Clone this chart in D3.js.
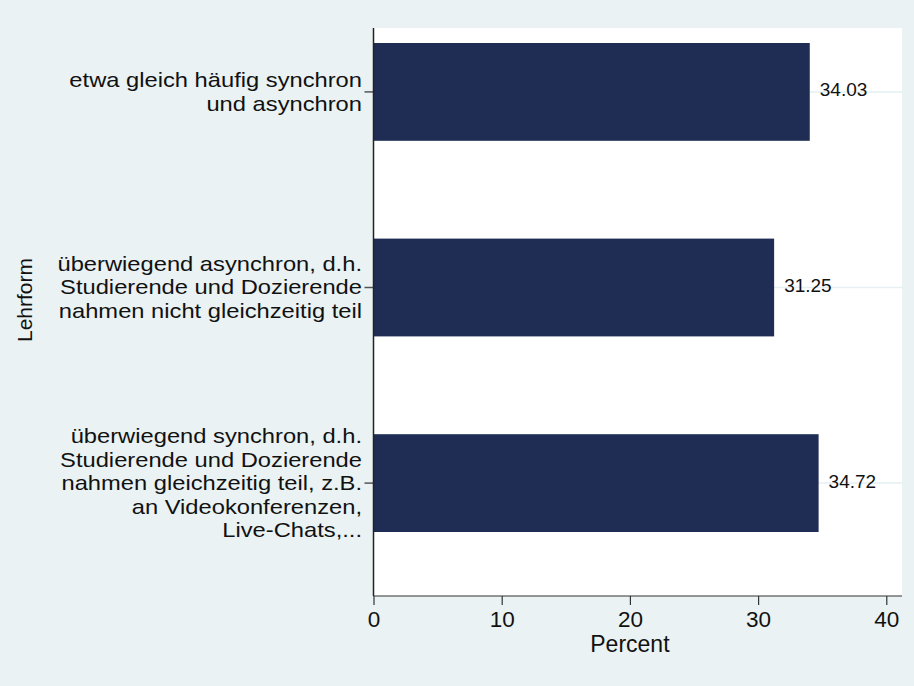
<!DOCTYPE html>
<html>
<head>
<meta charset="utf-8">
<script src="https://cdn.jsdelivr.net/npm/d3@7"></script>
<style>
  body { margin: 0; background: #eaf2f3; }
  svg text { font-family: "Liberation Sans", Arial, sans-serif; fill: #111; }
</style>
</head>
<body>
<div id="chart"></div>
<script>
// data
let categories = [
    ["etwa gleich häufig synchron", "und asynchron"],
    ["überwiegend asynchron, d.h.", "Studierende und Dozierende", "nahmen nicht gleichzeitig teil"],
    ["überwiegend synchron, d.h.", "Studierende und Dozierende", "nahmen gleichzeitig teil, z.B.", "an Videokonferenzen,", "Live-Chats,..."]
];
let percents = [34.03, 31.25, 34.72];
let xTicks = [0, 10, 20, 30, 40];
let xTitle = "Percent";
let yTitle = "Lehrform";

let width = 914, height = 686;
let plot = { left: 373.5, right: 902, top: 28, bottom: 596 };

let svg = d3.select("#chart")
    .append("svg")
    .attr("width", width)
    .attr("height", height);

svg.append("rect")
    .attr("width", width).attr("height", height)
    .attr("fill", "#eaf2f3");

// plot region
svg.append("rect")
    .attr("x", plot.left).attr("y", plot.top)
    .attr("width", plot.right - plot.left)
    .attr("height", plot.bottom - plot.top)
    .attr("fill", "#fff");

let x = d3.scaleLinear().domain([0, 40]).range([plot.left, plot.left + 512.8]);

let keys = categories.map((c, i) => i);
let y = d3.scaleBand().domain(keys).range([43, 532]).paddingInner(0.5).paddingOuter(0);

// grid lines at category centres
svg.append("g")
    .selectAll("line")
    .data(keys)
    .enter()
    .append("line")
    .attr("x1", plot.left).attr("x2", plot.right)
    .attr("y1", d => y(d) + y.bandwidth() / 2)
    .attr("y2", d => y(d) + y.bandwidth() / 2)
    .attr("stroke", "#e6eff1")
    .attr("stroke-width", 1.5);

// bars
svg.append("g")
    .selectAll("rect")
    .data(percents)
    .enter()
    .append("rect")
    .attr("x", x(0))
    .attr("y", (d, i) => y(i))
    .attr("width", d => x(d) - x(0))
    .attr("height", y.bandwidth())
    .attr("fill", "#1f2d55");

// bar labels
svg.append("g")
    .selectAll("text")
    .data(percents)
    .enter()
    .append("text")
    .attr("x", d => x(d) + 10)
    .attr("y", (d, i) => y(i) + y.bandwidth() / 2 - 2)
    .attr("dominant-baseline", "central")
    .attr("font-size", 19)
    .text(d => d.toFixed(2));

// x axis
let xAxis = svg.append("g")
    .attr("transform", `translate(0,${plot.bottom})`)
    .call(d3.axisBottom(x).tickValues(xTicks).tickSize(9).tickPadding(6).tickFormat(d3.format("d")));
xAxis.select(".domain").remove();
xAxis.append("line")
    .attr("x1", plot.left).attr("x2", plot.right)
    .attr("stroke", "#333").attr("stroke-width", 1.2);
xAxis.selectAll(".tick line").attr("stroke", "#333").attr("stroke-width", 1.2);
xAxis.selectAll(".tick text")
    .attr("font-size", 22.5)
    .attr("font-family", "Liberation Sans, Arial, sans-serif")
    .attr("fill", "#111");

// y axis
let yAxis = svg.append("g")
    .attr("transform", `translate(${plot.left},0)`)
    .call(d3.axisLeft(y).tickSize(9).tickFormat(""));
yAxis.select(".domain").remove();
yAxis.append("line")
    .attr("y1", plot.top).attr("y2", plot.bottom)
    .attr("stroke", "#222").attr("stroke-width", 1.5);
yAxis.selectAll(".tick line").attr("stroke", "#555").attr("stroke-width", 1.5);

// category labels (stretched a little sideways, like the original)
let lineH = 23.5;
svg.append("g")
    .selectAll("text")
    .data(categories)
    .enter()
    .append("text")
    .attr("text-anchor", "end")
    .attr("font-size", 21)
    .attr("transform", "translate(362,0) scale(1.13,1)")
    .each(function (lines, i) {
        let cy = y(i) + y.bandwidth() / 2;
        let first = cy - (lines.length - 1) * lineH / 2;
        d3.select(this).selectAll("tspan")
            .data(lines)
            .enter()
            .append("tspan")
            .attr("x", 0)
            .attr("y", (l, j) => first + j * lineH)
            .attr("dy", "0.33em")
            .text(l => l);
    });

// axis titles
svg.append("text")
    .attr("x", x(20))
    .attr("y", 652)
    .attr("text-anchor", "middle")
    .attr("font-size", 23)
    .text(xTitle);

svg.append("text")
    .attr("transform", "translate(32,300) rotate(-90)")
    .attr("text-anchor", "middle")
    .attr("font-size", 21)
    .text(yTitle);
</script>
</body>
</html>
